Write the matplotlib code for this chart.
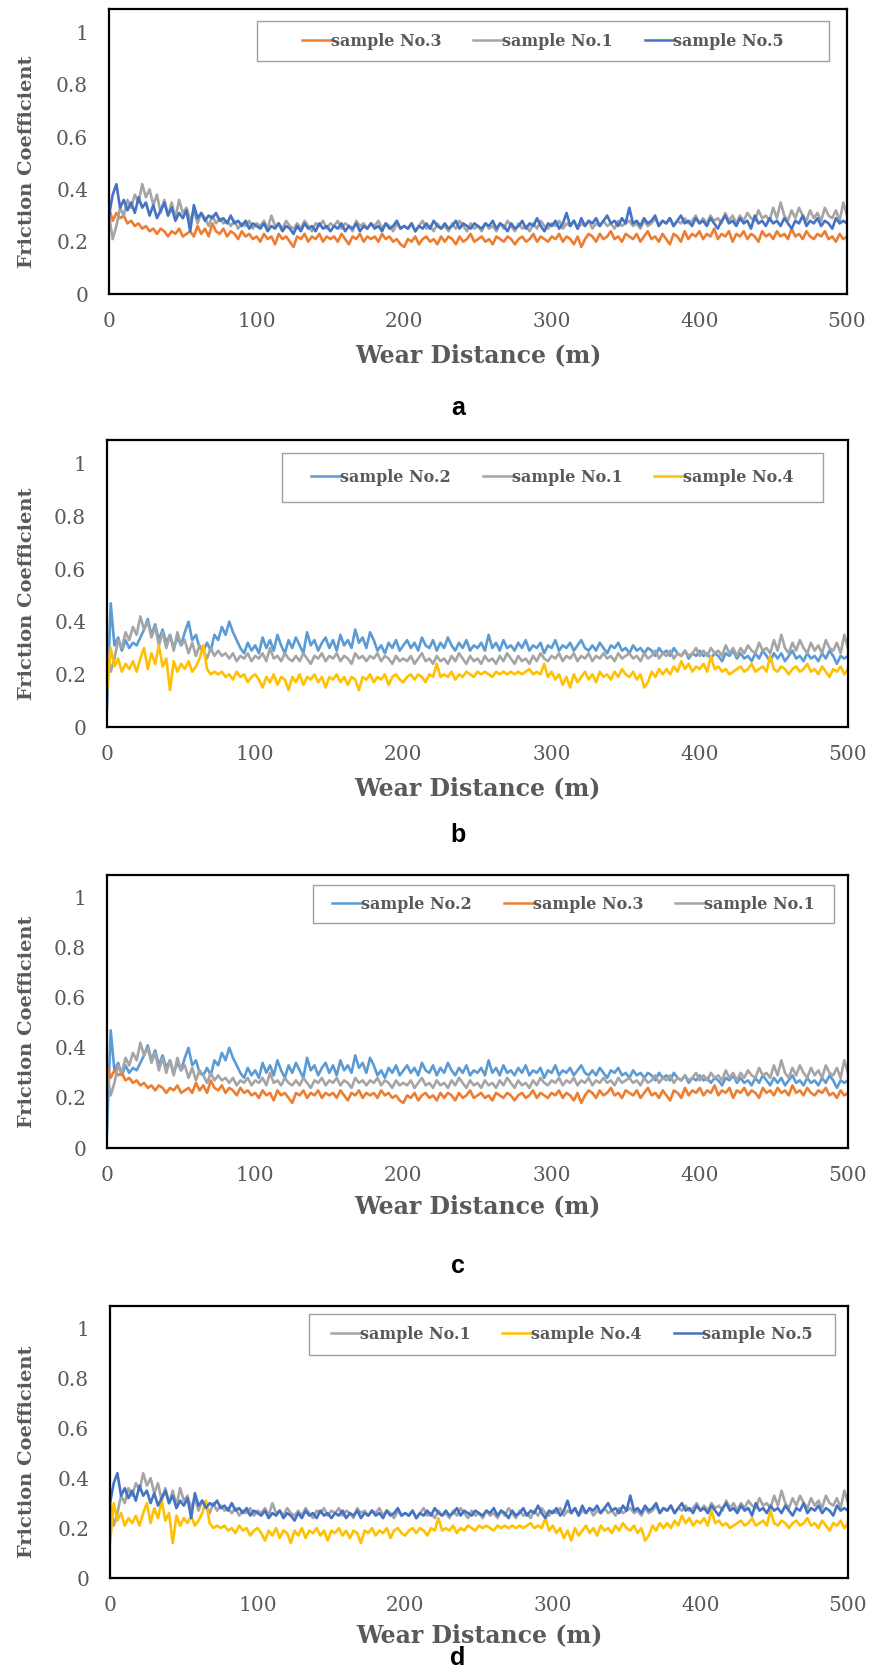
import numpy as np
import matplotlib
matplotlib.use("Agg")
import matplotlib.pyplot as plt
from matplotlib.patches import Rectangle
from matplotlib.lines import Line2D

# ---------------- data (friction coefficient vs wear distance, 0..500 m) ----------------
sample_no3 = [0.33, 0.28, 0.31, 0.29, 0.30, 0.27, 0.28, 0.26, 0.27, 0.25, 0.26,
              0.24, 0.25, 0.23, 0.25, 0.24, 0.22, 0.24, 0.23, 0.25, 0.22,
              0.23, 0.24, 0.22, 0.26, 0.23, 0.25, 0.22, 0.27, 0.24, 0.23,
              0.25, 0.22, 0.24, 0.23, 0.21, 0.24, 0.22, 0.23, 0.21, 0.22,
              0.20, 0.23, 0.21, 0.22, 0.19, 0.23, 0.21, 0.22, 0.20, 0.18,
              0.22, 0.21, 0.23, 0.20, 0.22, 0.21, 0.23, 0.20, 0.22, 0.21,
              0.22, 0.20, 0.23, 0.21, 0.19, 0.22, 0.21, 0.23, 0.20, 0.22,
              0.21, 0.22, 0.20, 0.23, 0.21, 0.22, 0.20, 0.21, 0.19, 0.18,
              0.21, 0.20, 0.22, 0.19, 0.21, 0.22, 0.20, 0.21, 0.19, 0.22,
              0.20, 0.22, 0.21, 0.19, 0.22, 0.20, 0.21, 0.23, 0.20, 0.21,
              0.22, 0.20, 0.21, 0.19, 0.22, 0.21, 0.20, 0.22, 0.21, 0.19,
              0.21, 0.22, 0.20, 0.21, 0.23, 0.20, 0.22, 0.21, 0.20, 0.22,
              0.21, 0.23, 0.20, 0.22, 0.21, 0.19, 0.22, 0.18, 0.21, 0.23,
              0.22, 0.20, 0.23, 0.21, 0.22, 0.24, 0.21, 0.22, 0.20, 0.23,
              0.22, 0.21, 0.23, 0.20, 0.22, 0.24, 0.21, 0.22, 0.20, 0.23,
              0.21, 0.19, 0.23, 0.22, 0.20, 0.24, 0.21, 0.23, 0.22, 0.24,
              0.21, 0.23, 0.22, 0.25, 0.21, 0.23, 0.22, 0.24, 0.20, 0.23,
              0.22, 0.24, 0.21, 0.23, 0.22, 0.20, 0.24, 0.22, 0.23, 0.21,
              0.24, 0.22, 0.23, 0.21, 0.25, 0.22, 0.23, 0.21, 0.24, 0.22,
              0.21, 0.23, 0.22, 0.24, 0.21, 0.22, 0.20, 0.23, 0.21, 0.22]

sample_no1 = [0.30, 0.21, 0.26, 0.33, 0.30, 0.36, 0.33, 0.38, 0.35, 0.42, 0.37,
              0.40, 0.34, 0.38, 0.31, 0.36, 0.30, 0.35, 0.29, 0.36, 0.31,
              0.33, 0.28, 0.32, 0.27, 0.31, 0.29, 0.26, 0.30, 0.27, 0.29,
              0.27, 0.28, 0.26, 0.28, 0.25, 0.27, 0.26, 0.28, 0.25, 0.27,
              0.26, 0.28, 0.25, 0.30, 0.26, 0.27, 0.25, 0.28, 0.26, 0.25,
              0.27, 0.25, 0.28, 0.26, 0.24, 0.27, 0.26, 0.28, 0.25, 0.27,
              0.26, 0.28, 0.25, 0.27, 0.26, 0.24, 0.28, 0.26, 0.27, 0.25,
              0.27, 0.26, 0.28, 0.25, 0.27, 0.26, 0.24, 0.27, 0.25, 0.26,
              0.25, 0.27, 0.24, 0.26, 0.28, 0.25, 0.26, 0.24, 0.27, 0.25,
              0.26, 0.24, 0.27, 0.25, 0.28, 0.26, 0.24, 0.27, 0.25, 0.26,
              0.24, 0.27, 0.25, 0.26, 0.24, 0.27, 0.25, 0.28, 0.26, 0.24,
              0.27, 0.25, 0.26, 0.24, 0.27, 0.25, 0.28, 0.26, 0.25, 0.27,
              0.26, 0.28, 0.25, 0.27, 0.26, 0.28, 0.25, 0.27, 0.26, 0.28,
              0.25, 0.27, 0.26, 0.28, 0.26, 0.27, 0.25, 0.28, 0.26, 0.27,
              0.28, 0.26, 0.27, 0.25, 0.28, 0.26, 0.27, 0.29, 0.26, 0.28,
              0.27, 0.29, 0.26, 0.28, 0.27, 0.29, 0.27, 0.28, 0.30, 0.27,
              0.29, 0.27, 0.30, 0.28, 0.29, 0.27, 0.31, 0.28, 0.30, 0.27,
              0.30, 0.28, 0.31, 0.29, 0.28, 0.32, 0.29, 0.30, 0.28, 0.33,
              0.29, 0.35, 0.30, 0.28, 0.32, 0.29, 0.33, 0.30, 0.28, 0.32,
              0.29, 0.31, 0.28, 0.33, 0.30, 0.29, 0.32, 0.28, 0.35, 0.30]

sample_no5 = [0.30, 0.38, 0.42, 0.33, 0.36, 0.32, 0.35, 0.31, 0.37, 0.33, 0.35,
              0.30, 0.34, 0.29, 0.32, 0.35, 0.30, 0.33, 0.28, 0.31, 0.29,
              0.32, 0.24, 0.34, 0.29, 0.31, 0.28, 0.30, 0.29, 0.31, 0.28,
              0.29, 0.27, 0.30, 0.27, 0.28, 0.26, 0.28, 0.25, 0.27, 0.26,
              0.25, 0.27, 0.24, 0.26, 0.25, 0.27, 0.24, 0.26, 0.25, 0.23,
              0.26, 0.24, 0.27, 0.25, 0.26, 0.24, 0.27, 0.25, 0.26, 0.24,
              0.26, 0.25, 0.27, 0.24, 0.26, 0.25, 0.27, 0.24, 0.26, 0.25,
              0.27, 0.25, 0.26, 0.24, 0.27, 0.25, 0.26, 0.28, 0.25, 0.26,
              0.25, 0.27, 0.24, 0.26, 0.25, 0.27, 0.25, 0.28, 0.26, 0.25,
              0.27, 0.25, 0.26, 0.28, 0.25, 0.27, 0.26, 0.25, 0.27, 0.26,
              0.25, 0.27, 0.26, 0.28, 0.25, 0.27, 0.26, 0.24, 0.27, 0.25,
              0.26, 0.28, 0.25, 0.27, 0.26, 0.29, 0.26, 0.24, 0.27, 0.26,
              0.28, 0.25, 0.27, 0.31, 0.26, 0.28, 0.25, 0.29, 0.26, 0.28,
              0.27, 0.29, 0.26, 0.28, 0.30, 0.27, 0.28, 0.26, 0.29, 0.27,
              0.33, 0.27, 0.28, 0.26, 0.29, 0.27, 0.28, 0.30, 0.26, 0.28,
              0.27, 0.29, 0.26, 0.28, 0.30, 0.27, 0.28, 0.26, 0.29, 0.27,
              0.28, 0.26, 0.29, 0.27, 0.25, 0.28, 0.30, 0.27, 0.28, 0.26,
              0.29, 0.27, 0.28, 0.25, 0.30, 0.27, 0.28, 0.26, 0.29, 0.27,
              0.28, 0.26, 0.29, 0.27, 0.25, 0.28, 0.27, 0.30, 0.26, 0.28,
              0.27, 0.29, 0.26, 0.28, 0.27, 0.25, 0.29, 0.27, 0.28, 0.27]

sample_no2 = [0.07, 0.47, 0.31, 0.34, 0.29, 0.33, 0.30, 0.32, 0.31, 0.34, 0.37,
              0.41, 0.35, 0.39, 0.33, 0.37, 0.32, 0.35, 0.30, 0.34, 0.31,
              0.36, 0.40, 0.33, 0.35, 0.30, 0.29, 0.32, 0.29, 0.35, 0.33,
              0.38, 0.35, 0.40, 0.36, 0.33, 0.30, 0.28, 0.32, 0.29, 0.31,
              0.28, 0.34, 0.30, 0.33, 0.29, 0.35, 0.31, 0.28, 0.33, 0.30,
              0.34, 0.31, 0.28, 0.36, 0.31, 0.33, 0.29, 0.32, 0.34, 0.30,
              0.33, 0.29, 0.35, 0.31, 0.33, 0.30, 0.37, 0.32, 0.34, 0.30,
              0.36, 0.33, 0.29, 0.31, 0.28, 0.32, 0.30, 0.33, 0.29, 0.31,
              0.33, 0.30, 0.32, 0.29, 0.34, 0.31, 0.30, 0.33, 0.29, 0.32,
              0.30, 0.34, 0.31, 0.29, 0.32, 0.30, 0.33, 0.29, 0.31, 0.30,
              0.32, 0.29, 0.35, 0.30, 0.32, 0.29, 0.33, 0.30, 0.31, 0.29,
              0.32, 0.30, 0.33, 0.29, 0.31, 0.30, 0.32, 0.28, 0.31, 0.30,
              0.33, 0.29, 0.31, 0.30, 0.32, 0.29, 0.31, 0.33, 0.30, 0.29,
              0.31, 0.29, 0.32, 0.30, 0.28, 0.31, 0.30, 0.32, 0.29, 0.30,
              0.28, 0.31, 0.29, 0.30, 0.28, 0.30, 0.29, 0.27, 0.30, 0.28,
              0.29, 0.27, 0.30, 0.28, 0.27, 0.29, 0.26, 0.28, 0.27, 0.29,
              0.27, 0.28, 0.26, 0.28, 0.27, 0.25, 0.28, 0.27, 0.29, 0.26,
              0.28, 0.26, 0.27, 0.25, 0.28, 0.26, 0.29, 0.27, 0.25, 0.28,
              0.26, 0.28, 0.25, 0.27, 0.29, 0.26, 0.27, 0.25, 0.28, 0.26,
              0.27, 0.25, 0.28, 0.26, 0.29, 0.27, 0.24, 0.27, 0.26, 0.27]

sample_no4 = [0.14, 0.30, 0.23, 0.26, 0.21, 0.24, 0.22, 0.25, 0.21, 0.26, 0.30,
              0.22, 0.28, 0.24, 0.31, 0.23, 0.26, 0.14, 0.25, 0.21, 0.24,
              0.22, 0.25, 0.21, 0.23, 0.26, 0.31, 0.22, 0.20, 0.21, 0.20,
              0.21, 0.19, 0.20, 0.18, 0.21, 0.19, 0.20, 0.17, 0.19, 0.20,
              0.18, 0.15, 0.19, 0.17, 0.20, 0.16, 0.19, 0.18, 0.14, 0.19,
              0.17, 0.20, 0.16, 0.19, 0.18, 0.20, 0.17, 0.19, 0.15, 0.19,
              0.18, 0.20, 0.17, 0.19, 0.16, 0.19, 0.18, 0.14, 0.19, 0.18,
              0.20, 0.17, 0.19, 0.18, 0.20, 0.16, 0.19, 0.20, 0.18, 0.17,
              0.19, 0.20, 0.18, 0.20, 0.19, 0.17, 0.20, 0.19, 0.24, 0.19,
              0.20, 0.19, 0.21, 0.18, 0.20, 0.19, 0.21, 0.20, 0.19, 0.21,
              0.20, 0.21, 0.20, 0.19, 0.21, 0.20, 0.21, 0.20, 0.21, 0.20,
              0.21, 0.20, 0.21, 0.22, 0.20, 0.21, 0.20, 0.24, 0.19, 0.21,
              0.18, 0.20, 0.16, 0.19, 0.15, 0.20, 0.17, 0.19, 0.21, 0.18,
              0.20, 0.17, 0.21, 0.19, 0.20, 0.18, 0.21, 0.19, 0.22, 0.20,
              0.19, 0.21, 0.18, 0.20, 0.15, 0.17, 0.21, 0.19, 0.22, 0.20,
              0.22, 0.20, 0.23, 0.21, 0.25, 0.22, 0.24, 0.21, 0.23, 0.22,
              0.24, 0.21, 0.27, 0.22, 0.23, 0.21, 0.22, 0.20, 0.21, 0.22,
              0.23, 0.21, 0.22, 0.24, 0.21, 0.22, 0.23, 0.21, 0.27, 0.22,
              0.21, 0.23, 0.22, 0.20, 0.22, 0.23, 0.21, 0.22, 0.24, 0.21,
              0.22, 0.20, 0.23, 0.21, 0.19, 0.22, 0.21, 0.23, 0.20, 0.22]

series_names = ["sample No.1", "sample No.2", "sample No.3", "sample No.4", "sample No.5"]
series_values = [sample_no1, sample_no2, sample_no3, sample_no4, sample_no5]

panel_letters = ["a", "b", "c", "d"]
panel_series = [["sample No.3", "sample No.1", "sample No.5"],
                ["sample No.2", "sample No.1", "sample No.4"],
                ["sample No.2", "sample No.3", "sample No.1"],
                ["sample No.1", "sample No.4", "sample No.5"]]

x_ticks = [0, 100, 200, 300, 400, 500]
y_ticks = [0, 0.2, 0.4, 0.6, 0.8, 1.0]
y_tick_labels = ["0", "0.2", "0.4", "0.6", "0.8", "1"]
x_label = "Wear Distance (m)"
y_label = "Friction Coefficient"

# ---------------- styling ----------------
colors = {"sample No.1": "#A5A5A5", "sample No.2": "#5B9BD5", "sample No.3": "#ED7D31",
          "sample No.4": "#FFC000", "sample No.5": "#4472C4"}
data = dict(zip(series_names, series_values))

W, H = 879, 1671
fig = plt.figure(figsize=(W / 100, H / 100), dpi=100)

# pixel layout per panel: axes (left, right, top, bottom), legend box, x-label / letter y
layout = [
    dict(ax=(109, 847, 9, 294), leg=(257, 829, 21, 61), xl=355, let=408),
    dict(ax=(107, 848, 440, 727), leg=(282, 823, 453, 502), xl=788, let=835),
    dict(ax=(107, 848, 875, 1148), leg=(313, 834, 885, 923), xl=1206, let=1266),
    dict(ax=(110, 848, 1306, 1578), leg=(309, 835, 1314, 1355), xl=1635, let=1658),
]

TXT = "#595959"
serif = "DejaVu Serif"

for letter, names, lay in zip(panel_letters, panel_series, layout):
    l, r, t, b = lay["ax"]
    ax = fig.add_axes([l / W, 1 - b / H, (r - l) / W, (b - t) / H])
    for nm in names:
        y = np.array(data[nm])
        x = np.linspace(0, 500, len(y))
        ax.plot(x, y, color=colors[nm], lw=1.9, label=nm)
    ax.set_xlim(0, 500)
    ax.set_ylim(0, 1.09)
    ax.set_xticks(x_ticks)
    ax.set_yticks(y_ticks)
    ax.set_yticklabels(y_tick_labels)
    ax.tick_params(length=0, labelsize=14.5, labelcolor=TXT)
    ax.tick_params(axis="x", pad=13)
    ax.tick_params(axis="y", pad=15)
    for lab in ax.get_xticklabels() + ax.get_yticklabels():
        lab.set_family(serif)
    for sp in ax.spines.values():
        sp.set_color("black")
        sp.set_linewidth(1.6)

    # y label
    cy = (t + b) / 2 + 10
    fig.text(27 / W, 1 - cy / H, y_label, rotation=90, ha="center", va="center",
             fontsize=14, fontweight="bold", family=serif, color=TXT)
    # x label
    fig.text(((l + r) / 2) / W, 1 - lay["xl"] / H, x_label, ha="center", va="center",
             fontsize=17, fontweight="bold", family=serif, color=TXT)
    # panel letter
    fig.text(458 / W, 1 - lay["let"] / H, letter, ha="center", va="center",
             fontsize=18, fontweight="bold", family="Liberation Sans", color="black")

    # legend frame and entries
    ll, lr, lt, lb = lay["leg"]
    fig.patches.append(Rectangle((ll / W, 1 - lb / H), (lr - ll) / W, (lb - lt) / H,
                                 transform=fig.transFigure, fill=True, facecolor="white",
                                 edgecolor="#A0A0A0", lw=1.0, zorder=5))
    handles = [Line2D([], [], color=colors[nm], lw=1.8) for nm in names]
    leg = fig.legend(handles, names, loc="center",
                     bbox_to_anchor=(((ll + lr) / 2) / W, 1 - ((lt + lb) / 2) / H),
                     ncol=3, frameon=False, handlelength=1.8, handletextpad=0.0,
                     columnspacing=2.0, prop=dict(family=serif, weight="bold", size=11.5))
    leg.set_zorder(6)
    for txt in leg.get_texts():
        txt.set_color(TXT)

fig.savefig("out.png", dpi=100, facecolor="white")
